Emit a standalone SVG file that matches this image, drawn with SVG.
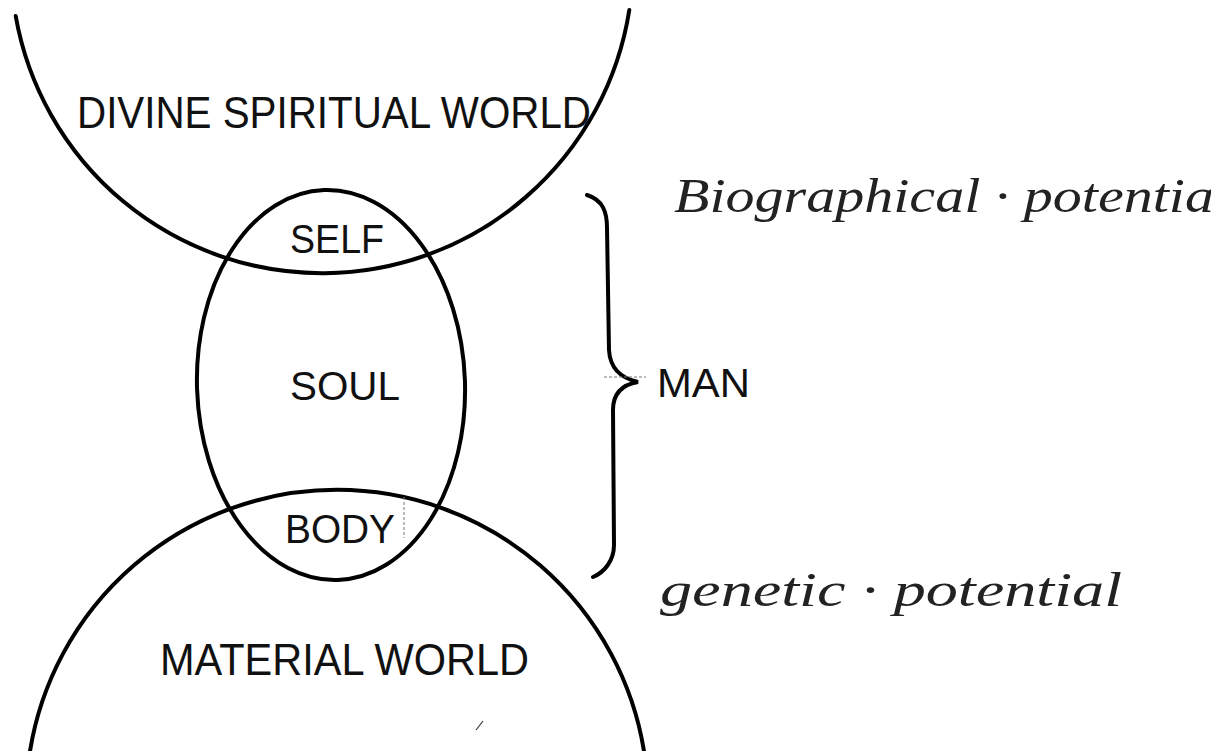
<svg xmlns="http://www.w3.org/2000/svg" width="1211" height="751" viewBox="0 0 1211 751">
<style>
.ln{fill:none;stroke:#000;stroke-width:4;stroke-linecap:round}
.lbl{font-family:"Liberation Sans",Arial,Helvetica,sans-serif;font-size:40px;fill:#111}
.big{font-size:44px}
.hand{font-family:"Liberation Serif","DejaVu Serif",serif;font-style:italic;font-size:48px;fill:#222}
.faint{fill:none;stroke:#777;stroke-width:1;stroke-dasharray:3 2}
</style>
<rect width="1211" height="751" fill="#fff"/>
<g id="divine-world">
<path class="ln" d="M15.7,16 A311,311 0 0 0 629.3,10"/>
<text class="lbl big" x="77" y="128" textLength="514" lengthAdjust="spacingAndGlyphs">DIVINE SPIRITUAL WORLD</text>
</g>
<g id="material-world">
<path class="ln" d="M29.4,755 A311,311 0 0 1 644.6,755"/>
<text class="lbl big" x="160" y="675" textLength="369" lengthAdjust="spacingAndGlyphs">MATERIAL WORLD</text>
<line x1="476" y1="730" x2="483" y2="721" stroke="#333" stroke-width="1.2"/>
</g>
<g id="man">
<ellipse class="ln" cx="331" cy="385" rx="134" ry="195" transform="rotate(-2 331 385)"/>
<text class="lbl" x="290" y="253" font-size="38" textLength="94" lengthAdjust="spacingAndGlyphs">SELF</text>
<text class="lbl" x="290" y="400" textLength="110" lengthAdjust="spacingAndGlyphs">SOUL</text>
<text class="lbl" x="285" y="543" textLength="110" lengthAdjust="spacingAndGlyphs">BODY</text>
<line class="faint" x1="404" y1="497" x2="404" y2="538"/>
</g>
<g id="connectors">
<path class="ln" stroke-width="5" d="M587,195 C603,200 607,212 607,228 L609,350 C610,368 620,378 638,382 C620,385 613,395 613,410 L614,545 C614,560 605,572 593,577"/>
<line class="faint" x1="604" y1="377" x2="646" y2="377"/>
</g>
<g id="man-label">
<text class="lbl" x="657" y="397" textLength="93" lengthAdjust="spacingAndGlyphs">MAN</text>
</g>
<g id="biographical">
<text class="hand" x="674" y="212" textLength="540" lengthAdjust="spacingAndGlyphs">Biographical · potentia</text>
</g>
<g id="genetic">
<text class="hand" x="660" y="606" textLength="462" lengthAdjust="spacingAndGlyphs">genetic · potential</text>
</g>
</svg>
